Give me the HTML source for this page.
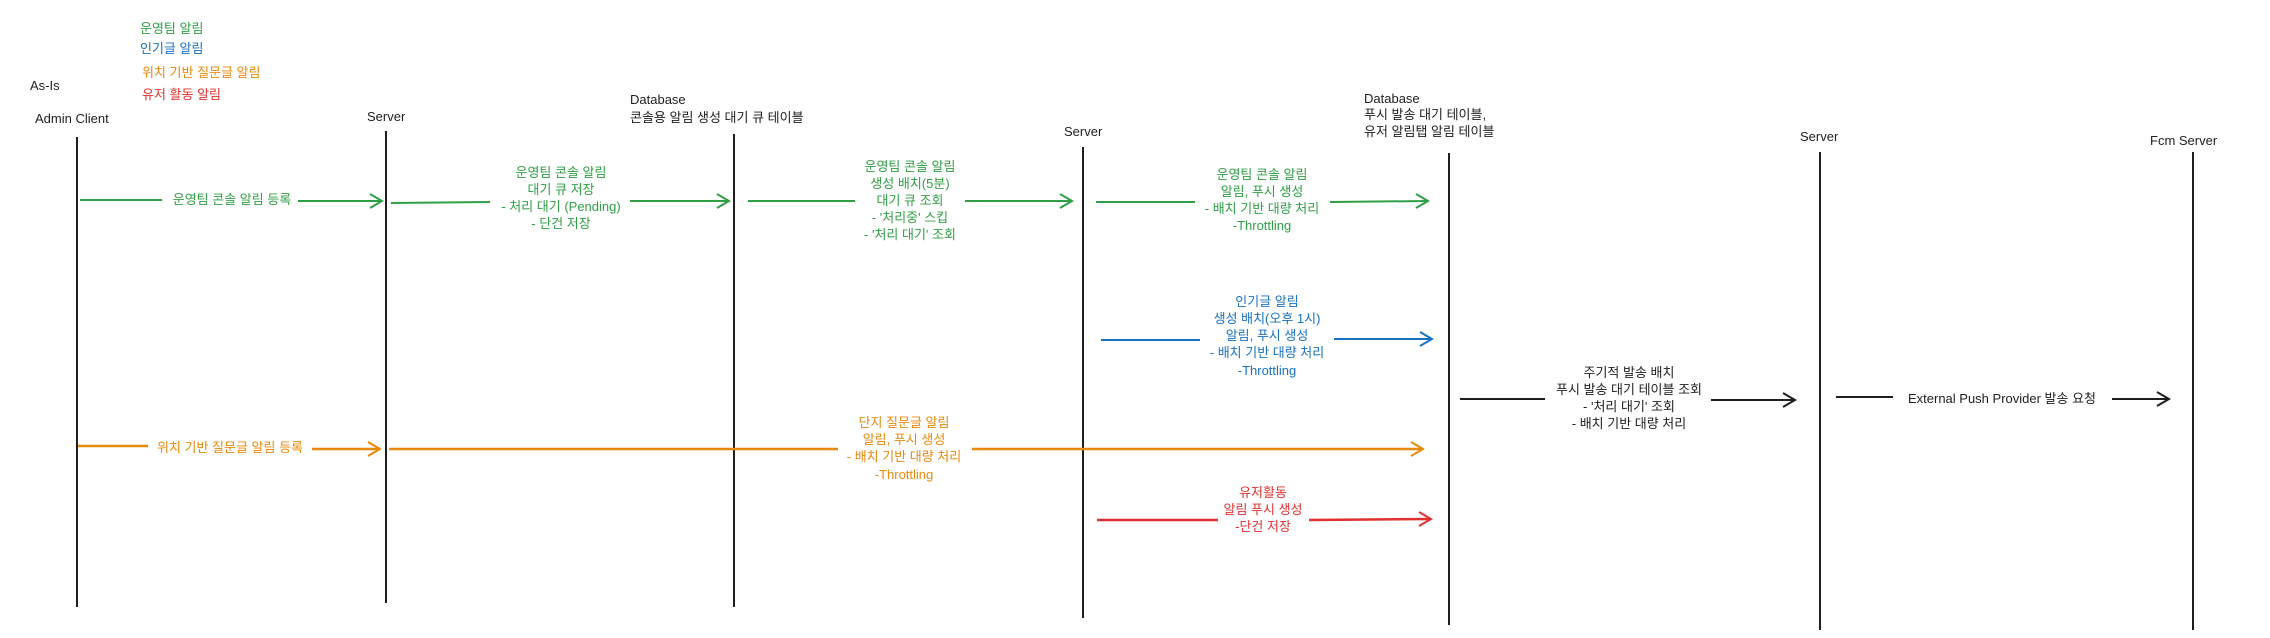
<!DOCTYPE html>
<html><head><meta charset="utf-8"><style>
html,body{margin:0;padding:0;background:#fff;width:2270px;height:638px;overflow:hidden}
svg text{font-family:"Liberation Sans","Noto Sans CJK KR",sans-serif;font-size:13px}
</style></head><body>
<svg width="2270" height="638" xmlns="http://www.w3.org/2000/svg">
<defs>
<g id="ah"><path d="M-12,-7 L0,0 L-12,7" fill="none" stroke-width="2"/></g>
</defs>
<!-- legend -->
<text x="140" y="33" fill="#2f9e44">운영팀 알림</text>
<text x="140" y="53" fill="#1971c2">인기글 알림</text>
<text x="142" y="77" fill="#e8890c">위치 기반 질문글 알림</text>
<text x="142" y="99" fill="#e03131">유저 활동 알림</text>
<text x="30" y="90" fill="#1e1e1e" font-size="14">As-Is</text>
<!-- headers -->
<g fill="#1e1e1e">
<text x="35" y="123">Admin Client</text>
<text x="367" y="121">Server</text>
<text x="630" y="104">Database</text>
<text x="630" y="122">콘솔용 알림 생성 대기 큐 테이블</text>
<text x="1064" y="136">Server</text>
<text x="1364" y="103">Database</text>
<text x="1364" y="119">푸시 발송 대기 테이블,</text>
<text x="1364" y="136">유저 알림탭 알림 테이블</text>
<text x="1800" y="141">Server</text>
<text x="2150" y="145">Fcm Server</text>
</g>
<!-- lifelines -->
<g stroke="#1e1e1e" stroke-width="2">
<line x1="77" y1="137" x2="77" y2="607"/>
<line x1="386" y1="131" x2="386" y2="603"/>
<line x1="734" y1="134" x2="734" y2="607"/>
<line x1="1083" y1="147" x2="1083" y2="618"/>
<line x1="1449" y1="153" x2="1449" y2="625"/>
<line x1="1820" y1="152" x2="1820" y2="630"/>
<line x1="2193" y1="152" x2="2193" y2="630"/>
</g>
<!-- green arrows -->
<g stroke="#2f9e44" stroke-width="2" fill="none">
<line x1="80" y1="200" x2="162" y2="200"/><line x1="298" y1="201" x2="382" y2="201"/><use href="#ah" x="382" y="201" stroke="#2f9e44"/>
<line x1="391" y1="203" x2="490" y2="202"/><line x1="630" y1="201" x2="729" y2="201"/><use href="#ah" x="729" y="201" stroke="#2f9e44"/>
<line x1="748" y1="201" x2="855" y2="201"/><line x1="965" y1="201" x2="1072" y2="201"/><use href="#ah" x="1072" y="201" stroke="#2f9e44"/>
<line x1="1096" y1="202" x2="1195" y2="202"/><line x1="1330" y1="202" x2="1428" y2="201"/><use href="#ah" x="1428" y="201" stroke="#2f9e44"/>
</g>
<g fill="#2f9e44" text-anchor="middle">
<text x="232" y="204">운영팀 콘솔 알림 등록</text>
<text x="561" y="177">운영팀 콘솔 알림</text>
<text x="561" y="194">대기 큐 저장</text>
<text x="561" y="211">- 처리 대기 (Pending)</text>
<text x="561" y="228">- 단건 저장</text>
<text x="910" y="171">운영팀 콘솔 알림</text>
<text x="910" y="188">생성 배치(5분)</text>
<text x="910" y="205">대기 큐 조회</text>
<text x="910" y="222">- '처리중' 스킵</text>
<text x="910" y="239">- '처리 대기' 조회</text>
<text x="1262" y="179">운영팀 콘솔 알림</text>
<text x="1262" y="196">알림, 푸시 생성</text>
<text x="1262" y="213">- 배치 기반 대량 처리</text>
<text x="1262" y="230">-Throttling</text>
</g>
<!-- blue -->
<g stroke="#1971c2" stroke-width="2" fill="none">
<line x1="1101" y1="340" x2="1200" y2="340"/><line x1="1334" y1="339" x2="1432" y2="339"/><use href="#ah" x="1432" y="339" stroke="#1971c2"/>
</g>
<g fill="#1971c2" text-anchor="middle">
<text x="1267" y="306">인기글 알림</text>
<text x="1267" y="323">생성 배치(오후 1시)</text>
<text x="1267" y="340">알림, 푸시 생성</text>
<text x="1267" y="357">- 배치 기반 대량 처리</text>
<text x="1267" y="375">-Throttling</text>
</g>
<!-- orange -->
<g stroke="#e8890c" stroke-width="2.5" fill="none">
<line x1="78" y1="446" x2="148" y2="446"/><line x1="312" y1="449" x2="380" y2="449"/><use href="#ah" x="380" y="449" stroke="#e8890c"/>
<line x1="389" y1="449" x2="838" y2="449"/><line x1="972" y1="449" x2="1423" y2="449"/><use href="#ah" x="1423" y="449" stroke="#e8890c"/>
</g>
<g fill="#e8890c" text-anchor="middle">
<text x="230" y="452">위치 기반 질문글 알림 등록</text>
<text x="904" y="427">단지 질문글 알림</text>
<text x="904" y="444">알림, 푸시 생성</text>
<text x="904" y="461">- 배치 기반 대량 처리</text>
<text x="904" y="479">-Throttling</text>
</g>
<!-- red -->
<g stroke="#e03131" stroke-width="2.5" fill="none">
<line x1="1097" y1="520" x2="1218" y2="520"/><line x1="1309" y1="520" x2="1431" y2="519"/><use href="#ah" x="1431" y="519" stroke="#e03131"/>
</g>
<g fill="#e03131" text-anchor="middle">
<text x="1263" y="497">유저활동</text>
<text x="1263" y="514">알림 푸시 생성</text>
<text x="1263" y="531">-단건 저장</text>
</g>
<!-- black -->
<g stroke="#1e1e1e" stroke-width="2" fill="none">
<line x1="1460" y1="399" x2="1545" y2="399"/><line x1="1711" y1="400" x2="1795" y2="400"/><use href="#ah" x="1795" y="400" stroke="#1e1e1e"/>
<line x1="1836" y1="397" x2="1893" y2="397"/><line x1="2112" y1="399" x2="2169" y2="399"/><use href="#ah" x="2169" y="399" stroke="#1e1e1e"/>
</g>
<g fill="#1e1e1e" text-anchor="middle">
<text x="1629" y="377">주기적 발송 배치</text>
<text x="1629" y="394">푸시 발송 대기 테이블 조회</text>
<text x="1629" y="411">- '처리 대기' 조회</text>
<text x="1629" y="428">- 배치 기반 대량 처리</text>
<text x="2002" y="403">External Push Provider 발송 요청</text>
</g>
</svg>
</body></html>
